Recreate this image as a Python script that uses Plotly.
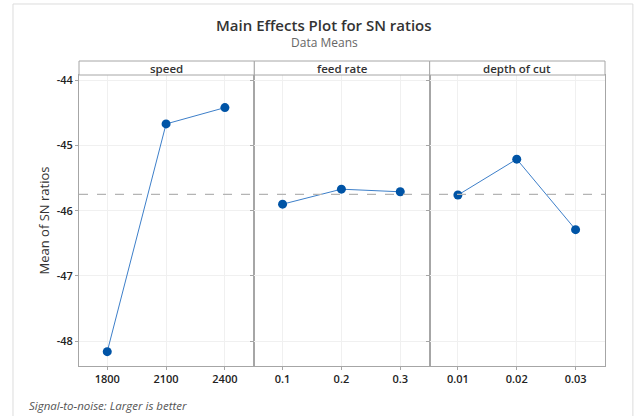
import plotly.graph_objects as go
from plotly.subplots import make_subplots

factors = ["speed", "feed rate", "depth of cut"]
speed_levels = ["1800", "2100", "2400"]
speed_means = [-48.16, -44.67, -44.42]
feed_levels = ["0.1", "0.2", "0.3"]
feed_means = [-45.90, -45.67, -45.71]
depth_levels = ["0.01", "0.02", "0.03"]
depth_means = [-45.76, -45.21, -46.29]
y_ticks = [-48, -47, -46, -45, -44]
y_tick_labels = ["-48", "-47", "-46", "-45", "-44"]

levels = [speed_levels, feed_levels, depth_levels]
means = [speed_means, feed_means, depth_means]
grand_mean = sum(speed_means) / len(speed_means)

FONT = "Open Sans"
AX = "#a6a6a6"

fig = make_subplots(rows=1, cols=3, shared_yaxes=True, horizontal_spacing=0)

for i, (lv, mv) in enumerate(zip(levels, means)):
    fig.add_trace(go.Scatter(
        x=list(range(len(lv))), y=mv, mode="lines+markers",
        line=dict(color="#3d7fc9", width=1),
        marker=dict(color="#0054a6", size=9),
        showlegend=False, hoverinfo="skip"), row=1, col=i + 1)
    fig.update_xaxes(
        tickmode="array", tickvals=list(range(len(lv))), ticktext=lv,
        range=[-0.48, 2.5], showgrid=True, gridcolor="#f0f0f0", gridwidth=1,
        showline=True, linecolor=AX, linewidth=1, mirror=True,
        ticks="outside", ticklen=3, tickcolor=AX, zeroline=False,
        tickfont=dict(family=FONT, size=11, color="#222", weight=600),
        row=1, col=i + 1)

fig.update_yaxes(
    range=[-48.38, -43.92], tickvals=y_ticks, ticktext=y_tick_labels,
    showgrid=True, gridcolor="#f0f0f0", showline=True, linecolor=AX, mirror=True,
    ticks="outside", ticklen=3, tickcolor=AX, zeroline=False,
    tickfont=dict(family=FONT, size=11, color="#222", weight=600))
fig.update_yaxes(title=dict(text="Mean of SN ratios", font=dict(family=FONT, size=13, color="#333", weight=500), standoff=4),
                 row=1, col=1)

shapes = []
# outer border
shapes.append(dict(type="rect", xref="paper", yref="paper", x0=-0.1255, x1=1.053, y0=-0.2, y1=1.244,
                   line=dict(color="#dcdcdc", width=1), fillcolor="rgba(0,0,0,0)", layer="below"))
# mean line
shapes.append(dict(type="line", xref="paper", yref="y", x0=0, x1=1, y0=grand_mean, y1=grand_mean,
                   line=dict(color="#b4b4b4", width=1.2, dash="dash")))
strip_h = 14 / 291
for i in range(3):
    x0 = i / 3
    x1 = (i + 1) / 3
    shapes.append(dict(type="rect", xref="paper", yref="paper", x0=x0, x1=x1, y0=1, y1=1 + strip_h,
                       line=dict(color=AX, width=1), fillcolor="white"))
fig.update_layout(shapes=shapes)

annotations = []
for i, f in enumerate(factors):
    annotations.append(dict(text=f, xref="paper", yref="paper", x=(i + 0.5) / 3, y=1 + strip_h / 2,
                            showarrow=False, xanchor="center", yanchor="middle",
                            font=dict(family=FONT, size=11.5, color="#333", weight=600)))
annotations.append(dict(text="Main Effects Plot for SN ratios", xref="paper", yref="paper",
                        x=(324 - 79) / 526, y=(366 - 25) / 291, showarrow=False,
                        xanchor="center", yanchor="middle",
                        font=dict(family=FONT, size=15, color="#333", weight=600)))
annotations.append(dict(text="Data Means", xref="paper", yref="paper",
                        x=(324 - 79) / 526, y=(366 - 43) / 291, showarrow=False,
                        xanchor="center", yanchor="middle",
                        font=dict(family=FONT, size=12, color="#666")))
annotations.append(dict(text="<i>Signal-to-noise: Larger is better</i>", xref="paper", yref="paper",
                        x=(27 - 79) / 526, y=(366 - 405) / 291, showarrow=False,
                        xanchor="left", yanchor="middle",
                        font=dict(family=FONT, size=11.5, color="#555")))
fig.update_layout(annotations=annotations)

fig.update_layout(
    width=636, height=416,
    margin=dict(l=79, r=31, t=75, b=50),
    paper_bgcolor="white", plot_bgcolor="white",
)
fig.write_html("out.html")
